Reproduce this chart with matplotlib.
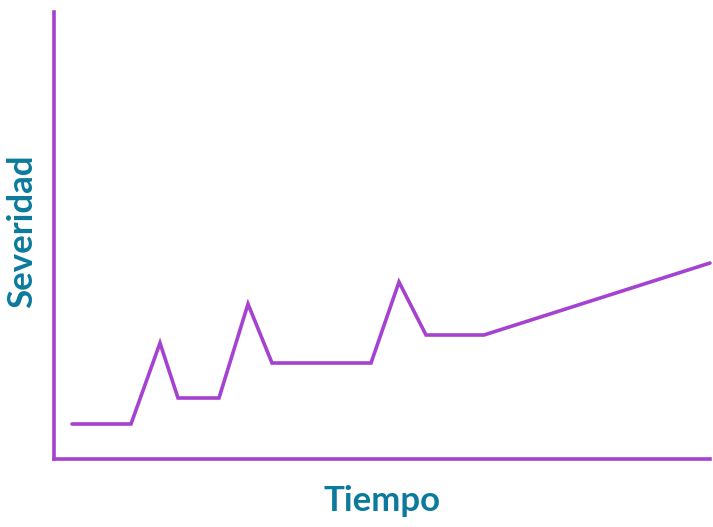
import matplotlib
matplotlib.use("Agg")
import matplotlib.pyplot as plt

tiempo = [18, 77, 106, 124, 165, 194, 218, 317, 345, 372, 430, 656]
severidad = [35, 35, 116, 61, 61, 155, 96, 96, 177, 124, 124, 196]
xlabel = "Tiempo"
ylabel = "Severidad"

purple = "#a542cf"
teal = "#0b7a9c"

fig = plt.figure(figsize=(7.13, 5.27), dpi=100)
ax = fig.add_axes([54/713, (527-459)/527, 656/713, 447/527])
ax.plot(tiempo, severidad, color=purple, lw=2.6, solid_joinstyle="miter", solid_capstyle="round", clip_on=False)
ax.set_xlim(0, 656)
ax.set_ylim(0, 447)
for s in ["top", "right"]:
    ax.spines[s].set_visible(False)
for s in ["left", "bottom"]:
    ax.spines[s].set_color(purple)
    ax.spines[s].set_linewidth(2.6)
ax.set_xticks([])
ax.set_yticks([])
fig.text(382/713, 1 - 501/527, xlabel, ha="center", va="center", fontsize=25,
         fontweight="bold", family=["Lato", "DejaVu Sans"], color=teal)
fig.text(22/713, 1 - 231/527, ylabel, ha="center", va="center", rotation=90, fontsize=25,
         fontweight="bold", family=["Lato", "DejaVu Sans"], color=teal)
fig.savefig("out.png", dpi=100)
